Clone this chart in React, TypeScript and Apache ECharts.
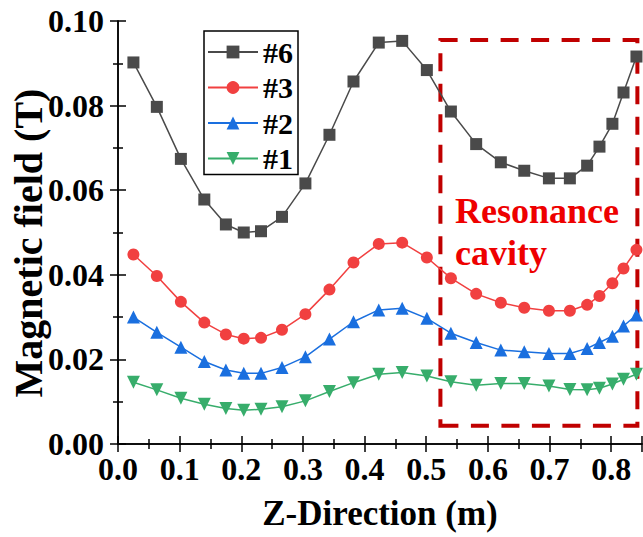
import React, { useEffect, useRef } from "react";
import * as echarts from "echarts";

const zPositions = [0.025, 0.063, 0.102, 0.14, 0.175, 0.204, 0.232, 0.266, 0.304, 0.343, 0.382, 0.423, 0.461, 0.501, 0.54, 0.581, 0.621, 0.659, 0.699, 0.733, 0.761, 0.781, 0.802, 0.82, 0.841];
const field6 = [0.0902, 0.0797, 0.0674, 0.0578, 0.0519, 0.05, 0.0503, 0.0537, 0.0616, 0.0731, 0.0857, 0.0949, 0.0953, 0.0884, 0.0786, 0.0709, 0.0666, 0.0646, 0.0628, 0.0628, 0.0658, 0.0703, 0.0757, 0.0831, 0.0916];
const field3 = [0.0448, 0.0397, 0.0336, 0.0287, 0.0259, 0.0249, 0.0251, 0.027, 0.0307, 0.0365, 0.0429, 0.0473, 0.0476, 0.0441, 0.0392, 0.0355, 0.0334, 0.0322, 0.0315, 0.0315, 0.0329, 0.035, 0.038, 0.0415, 0.0459];
const field2 = [0.03, 0.0264, 0.0229, 0.0195, 0.0175, 0.0167, 0.0167, 0.0181, 0.0206, 0.0248, 0.0289, 0.0317, 0.0321, 0.0297, 0.0262, 0.024, 0.0222, 0.0218, 0.0214, 0.0214, 0.0226, 0.024, 0.0255, 0.0279, 0.0305];
const field1 = [0.0146, 0.0128, 0.0108, 0.0094, 0.0084, 0.008, 0.0082, 0.0088, 0.0102, 0.0124, 0.0145, 0.0165, 0.0169, 0.0161, 0.0147, 0.0139, 0.0143, 0.0143, 0.0137, 0.0129, 0.0128, 0.0132, 0.0142, 0.0153, 0.0165];
const seriesNames = ["#6", "#3", "#2", "#1"];
const cavityX = [0.523, 0.8425];
const cavityY = [0.0043, 0.0955];
const cavityLines = ["Resonance", "cavity"];
const yTitle = "Magnetic field (T)";
const xTitle = "Z-Direction (m)";

const FONT = "Liberation Serif";

export default function App() {
  const ref = useRef<HTMLDivElement>(null);
  useEffect(() => {
    if (!ref.current) return;
    const chart = echarts.init(ref.current, null, { renderer: "svg" });
    const pair = (ys: number[]) => zPositions.map((x, i) => [x, ys[i]]);
    const axisLine = { show: true, lineStyle: { color: "#000", width: 1.5 } };
    const tick = { inside: true, length: 8, lineStyle: { color: "#000", width: 1.5 } };
    const minor = { show: true, splitNumber: 2, length: 5, lineStyle: { color: "#000", width: 1.5 } };
    const baseSeries = (name: string, data: number[], color: string, symbol: string, size: number, rotate = 0) => ({
      name,
      type: "line",
      data: pair(data),
      symbol,
      symbolSize: size,
      symbolRotate: rotate,
      clip: false,
      lineStyle: { color, width: 1.5 },
      itemStyle: { color },
      emphasis: { disabled: true },
    });
    const s6: any = baseSeries(seriesNames[0], field6, "#4a4a4a", "rect", 12);
    s6.markArea = {
      silent: true,
      label: { show: false },
      itemStyle: { color: "rgba(0,0,0,0)", borderColor: "#c00000", borderWidth: 4, borderType: [18, 12.5] },
      data: [[{ xAxis: cavityX[0], yAxis: cavityY[0] }, { xAxis: cavityX[1], yAxis: cavityY[1] }]],
    };
    const option: any = {
      animation: false,
      textStyle: { fontFamily: FONT },
      grid: { left: 118, right: 1, top: 21, bottom: 93 },
      legend: {
        orient: "vertical",
        left: 204,
        top: 31,
        padding: [6, 5, 1, 3],
        itemWidth: 50,
        itemHeight: 16,
        itemGap: 5.5,
        borderColor: "#000",
        borderWidth: 1.5,
        data: seriesNames,
        textStyle: { fontFamily: FONT, fontWeight: "bold", fontSize: 30, color: "#000", lineHeight: 30 },
      },
      xAxis: [
        {
          type: "value",
          min: 0,
          max: 0.85,
          interval: 0.1,
          name: xTitle,
          nameLocation: "middle",
          nameGap: 52,
          nameTextStyle: { fontFamily: FONT, fontWeight: "bold", fontSize: 35, color: "#000" },
          axisLine,
          axisTick: tick,
          minorTick: minor,
          splitLine: { show: false },
          axisLabel: {
            showMaxLabel: false,
            margin: 9,
            fontFamily: FONT,
            fontWeight: "bold",
            fontSize: 32,
            color: "#000",
            formatter: (v: number) => v.toFixed(1),
          },
        },
        {
          type: "value",
          position: "top",
          min: 0,
          max: 0.85,
          interval: 0.1,
          axisLine,
          axisTick: tick,
          minorTick: minor,
          splitLine: { show: false },
          axisLabel: { show: false },
        },
      ],
      yAxis: [
        {
          type: "value",
          min: 0,
          max: 0.1,
          interval: 0.02,
          axisLine,
          axisTick: tick,
          minorTick: minor,
          splitLine: { show: false },
          axisLabel: {
            margin: 14,
            fontFamily: FONT,
            fontWeight: "bold",
            fontSize: 32,
            color: "#000",
            formatter: (v: number) => v.toFixed(2),
          },
        },
        {
          type: "value",
          position: "right",
          min: 0,
          max: 0.1,
          interval: 0.02,
          axisLine,
          axisTick: tick,
          minorTick: minor,
          splitLine: { show: false },
          axisLabel: { show: false },
        },
      ],
      series: [
        s6,
        baseSeries(seriesNames[1], field3, "#f14040", "circle", 12),
        baseSeries(seriesNames[2], field2, "#1a6fdf", "triangle", 13),
        baseSeries(seriesNames[3], field1, "#37ad6b", "triangle", 13, 180),
      ],
      graphic: [
        {
          type: "text",
          x: 28,
          y: 243,
          rotation: Math.PI / 2,
          silent: true,
          style: { text: yTitle, align: "center", verticalAlign: "middle", fontFamily: FONT, fontWeight: "bold", fontSize: 40, fill: "#000" },
        },
        {
          type: "text",
          x: 455,
          y: 211,
          silent: true,
          style: { text: cavityLines[0], verticalAlign: "middle", fontFamily: FONT, fontWeight: "bold", fontSize: 36, fill: "#ee0000" },
        },
        {
          type: "text",
          x: 455,
          y: 253,
          silent: true,
          style: { text: cavityLines[1], verticalAlign: "middle", fontFamily: FONT, fontWeight: "bold", fontSize: 36, fill: "#ee0000" },
        },
      ],
    };
    chart.setOption(option);
    return () => chart.dispose();
  }, []);
  return <div ref={ref} style={{ position: "fixed", left: 0, top: 0, width: 643, height: 537, background: "#fff" }} />;
}
